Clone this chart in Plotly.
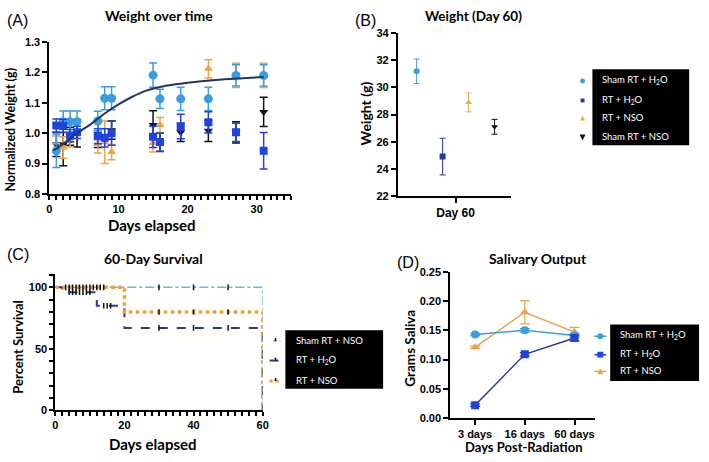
import plotly.graph_objects as go

W, H = 709, 462

# ---------------- Panel A data ----------------
a_sham_h2o_x = [1, 2, 3, 4, 7, 8, 9, 15, 16, 19, 23, 27, 31]
a_sham_h2o_y = [0.942, 1.038, 1.038, 1.038, 1.04, 1.115, 1.115, 1.191, 1.113, 1.113, 1.113, 1.19, 1.19]
a_sham_h2o_e = [0.055, 0.035, 0.035, 0.035, 0.032, 0.038, 0.038, 0.04, 0.032, 0.038, 0.038, 0.035, 0.035]

a_rt_h2o_x = [1, 2, 3, 4, 7, 8, 9, 15, 16, 19, 23, 27, 31]
a_rt_h2o_y = [1.025, 1.024, 0.992, 1.003, 0.99, 0.985, 1.0, 0.988, 0.971, 1.022, 1.036, 1.003, 0.942]
a_rt_h2o_e = [0.022, 0.022, 0.02, 0.02, 0.025, 0.03, 0.04, 0.035, 0.03, 0.04, 0.035, 0.03, 0.06]

a_rt_nso_x = [1, 2, 3, 7, 8, 9, 15, 16, 23, 27, 31]
a_rt_nso_y = [0.995, 0.953, 0.975, 0.965, 0.97, 0.938, 0.968, 1.027, 1.212, 1.19, 1.19]
a_rt_nso_e = [0.03, 0.035, 0.02, 0.03, 0.07, 0.025, 0.03, 0.025, 0.03, 0.04, 0.04]

a_sham_nso_x = [1, 2, 3, 4, 7, 9, 15, 16, 19, 23, 27, 31]
a_sham_nso_y = [0.963, 0.963, 0.99, 1.0, 0.998, 1.01, 1.027, 0.97, 1.003, 1.008, 1.003, 1.07]
a_sham_nso_e = [0.04, 0.07, 0.03, 0.045, 0.045, 0.03, 0.047, 0.03, 0.03, 0.035, 0.035, 0.048]

a_fit_x = [0.6, 2, 4, 6, 8, 10, 12, 14, 16, 18, 20, 24, 28, 31]
a_fit_y = [0.943, 0.965, 1.0, 1.03, 1.065, 1.095, 1.12, 1.14, 1.152, 1.16, 1.166, 1.175, 1.181, 1.185]

# ---------------- Panel B data ----------------
b_groups = ["Sham RT + H<sub>2</sub>O", "RT + H<sub>2</sub>O", "RT + NSO", "Sham RT + NSO"]
b_pos = [1, 2, 3, 4]
b_mean = [31.2, 24.9, 28.9, 27.1]
b_err = [0.9, 1.35, 0.7, 0.55]

# ---------------- Panel C data ----------------
c_sham_nso_x = [0, 60, 60]
c_sham_nso_y = [100, 100, 0]
c_rt_h2o_x = [0, 2, 12, 20, 60, 60]
c_rt_h2o_y = [100, 96, 85, 67, 67, 0]
c_rt_nso_x = [0, 20, 60, 60]
c_rt_nso_y = [100, 80, 80, 0]
c_cens_x = [3, 4, 5, 6, 7, 8, 9, 10, 11, 12, 13, 14, 30, 40, 50,
            4, 5, 6, 7, 8, 9, 10, 14, 15, 16, 30, 40, 50, 30, 40, 50]
c_cens_y = [100] * 12 + [100, 100, 100] + [96] * 7 + [85] * 3 + [67] * 3 + [80] * 3

# ---------------- Panel D data ----------------
d_days = ["3 days", "16 days", "60 days"]
d_sham_h2o = [0.143, 0.150, 0.141]
d_sham_h2o_e = [0.002, 0.003, 0.004]
d_rt_h2o = [0.022, 0.109, 0.137]
d_rt_h2o_e = [0.002, 0.003, 0.005]
d_rt_nso = [0.121, 0.181, 0.147]
d_rt_nso_e = [0.002, 0.02, 0.008]

# tick positions and labels (minor ticks get empty labels)
a_xticks = list(range(0, 36))
a_xlabels = [str(v) if v % 10 == 0 else "" for v in a_xticks]
c_xticks = list(range(0, 61, 2))
c_xlabels = [str(v) if v % 20 == 0 else "" for v in c_xticks]
c_yticks = list(range(0, 111, 10))
c_ylabels = [str(v) if v % 50 == 0 else "" for v in c_yticks]

LBLUE = "#3a9de0"
BLUE = "#1f43dc"
NAVY = "#2a3a9a"
ORANGE = "#eba445"
BLACK = "#111111"

fig = go.Figure()

def eb(arr, color, w=4, t=1.5):
    return dict(type="data", array=arr, color=color, thickness=t, width=w, visible=True)

# Panel A traces
fig.add_trace(go.Scatter(x=a_sham_nso_x, y=a_sham_nso_y, mode="markers", xaxis="x", yaxis="y",
                         marker=dict(symbol="triangle-down", size=8, color=BLACK),
                         error_y=eb(a_sham_nso_e, BLACK), showlegend=False))
fig.add_trace(go.Scatter(x=a_rt_nso_x, y=a_rt_nso_y, mode="markers", xaxis="x", yaxis="y",
                         marker=dict(symbol="triangle-up", size=8, color=ORANGE),
                         error_y=eb(a_rt_nso_e, ORANGE), showlegend=False))
fig.add_trace(go.Scatter(x=a_sham_h2o_x, y=a_sham_h2o_y, mode="markers", xaxis="x", yaxis="y",
                         marker=dict(symbol="circle", size=9, color=LBLUE),
                         error_y=eb(a_sham_h2o_e, LBLUE), showlegend=False))
fig.add_trace(go.Scatter(x=a_rt_h2o_x, y=a_rt_h2o_y, mode="markers", xaxis="x", yaxis="y",
                         marker=dict(symbol="square", size=8, color=BLUE),
                         error_y=eb(a_rt_h2o_e, BLUE), showlegend=False))
fig.add_trace(go.Scatter(x=a_fit_x, y=a_fit_y, mode="lines", xaxis="x", yaxis="y",
                         line=dict(color="#1f3566", width=2, shape="spline"), showlegend=False))

# Panel B traces
b_colors = [LBLUE, NAVY, "#e0b050", BLACK]
b_symbols = ["circle", "square", "triangle-up", "triangle-down"]
for i in range(4):
    fig.add_trace(go.Scatter(x=[b_pos[i]], y=[b_mean[i]], mode="markers", xaxis="x2", yaxis="y2",
                             marker=dict(symbol=b_symbols[i], size=6, color=b_colors[i]),
                             error_y=eb([b_err[i]], b_colors[i], w=3, t=1), showlegend=False))

# Panel C traces
fig.add_trace(go.Scatter(x=c_sham_nso_x, y=c_sham_nso_y, mode="lines", xaxis="x3", yaxis="y3",
                         line=dict(color="#6ab4e8", width=1.5, dash="dashdot", shape="hv"), showlegend=False))
fig.add_trace(go.Scatter(x=c_rt_h2o_x, y=c_rt_h2o_y, mode="lines", xaxis="x3", yaxis="y3",
                         line=dict(color="#26389e", width=2, dash="dash", shape="hv"), showlegend=False))
fig.add_trace(go.Scatter(x=c_rt_nso_x, y=c_rt_nso_y, mode="lines", xaxis="x3", yaxis="y3",
                         line=dict(color="#f0a030", width=3.5, dash="dot", shape="hv"), showlegend=False))
fig.add_trace(go.Scatter(x=c_cens_x, y=c_cens_y, mode="markers", xaxis="x3", yaxis="y3",
                         marker=dict(symbol="line-ns", size=4, line=dict(color=BLACK, width=1.5)),
                         showlegend=False))

# Panel D traces
fig.add_trace(go.Scatter(x=d_days, y=d_rt_nso, mode="lines+markers", xaxis="x4", yaxis="y4",
                         line=dict(color="#eaa24a", width=1.5),
                         marker=dict(symbol="triangle-up", size=8, color="#eaa24a"),
                         error_y=eb(d_rt_nso_e, "#eaa24a", w=5, t=1.2), showlegend=False))
fig.add_trace(go.Scatter(x=d_days, y=d_sham_h2o, mode="lines+markers", xaxis="x4", yaxis="y4",
                         line=dict(color=LBLUE, width=1.5),
                         marker=dict(symbol="circle", size=8, color=LBLUE),
                         error_y=eb(d_sham_h2o_e, LBLUE, w=5, t=1.2), showlegend=False))
fig.add_trace(go.Scatter(x=d_days, y=d_rt_h2o, mode="lines+markers", xaxis="x4", yaxis="y4",
                         line=dict(color=NAVY, width=1.5),
                         marker=dict(symbol="square", size=8, color=BLUE),
                         error_y=eb(d_rt_h2o_e, NAVY, w=5, t=1.2), showlegend=False))

def px(x):
    return x / W

def py(y):
    return 1 - y / H

TICKFONT = dict(family="Liberation Sans", size=11, color="black", weight="bold")

def ax(**kw):
    base = dict(showline=True, linecolor="black", linewidth=2, ticks="outside", ticklen=5,
                tickwidth=2, tickcolor="black", showgrid=False, zeroline=False,
                tickfont=TICKFONT, fixedrange=True)
    base.update(kw)
    return base

layout = dict(
    width=W, height=H, margin=dict(l=0, r=0, t=0, b=0),
    paper_bgcolor="white", plot_bgcolor="white", showlegend=False,
    xaxis=ax(domain=[px(47), px(292)], range=[0, 35], anchor="y", tickmode="array",
             tickvals=a_xticks, ticktext=a_xlabels, ticklen=4, tickwidth=1.5),
    yaxis=ax(domain=[py(193), py(37)], range=[0.8, 1.3], anchor="x", dtick=0.1, tickformat=".1f"),
    xaxis2=ax(domain=[px(400), px(515)], range=[0.28, 4.65], anchor="y2", tickvals=[2.5],
              ticktext=["Day 60"], tickfont=dict(family="Liberation Sans", size=12, color="black", weight="bold")),
    yaxis2=ax(domain=[py(195), py(28)], range=[22, 34], anchor="x2", dtick=2),
    xaxis3=ax(domain=[px(53), px(263)], range=[0, 60], anchor="y3", tickmode="array",
              tickvals=c_xticks, ticktext=c_xlabels, ticklen=4, tickwidth=1.5),
    yaxis3=ax(domain=[py(415), py(275)], range=[0, 111], anchor="x3", tickmode="array",
              tickvals=c_yticks, ticktext=c_ylabels, ticklen=4, tickwidth=1.5),
    xaxis4=ax(domain=[px(453), px(600)], range=[-0.5, 2.42], anchor="y4", type="category"),
    yaxis4=ax(domain=[py(423), py(273)], range=[0, 0.25], anchor="x4", dtick=0.05, tickformat=".2f"),
)

TITLE_FONT = dict(family="Lato", size=14, color="black", weight="bold")
LAB_FONT = dict(family="Liberation Sans", size=16, color="black")
LEG_FONT = dict(family="Lato", size=9.5, color="white")

def bold(size):
    return dict(family="Lato", size=size, color="black", weight="bold")

annotations = []

def note(text, x, y, font, xanchor="center", yanchor="middle", angle=0):
    annotations.append(dict(text=text, x=px(x), y=py(y), xref="paper", yref="paper",
                            showarrow=False, font=font, xanchor=xanchor, yanchor=yanchor,
                            textangle=angle))

# titles and panel letters
note("Weight over time", 158, 10, TITLE_FONT)
note("Weight (Day 60)", 477, 10, bold(13.5))
note("60-Day Survival", 152, 259, TITLE_FONT)
note("Salivary Output", 542, 259, TITLE_FONT)
note("(A)", 2, 15, LAB_FONT, xanchor="left")
note("(B)", 354, 15, LAB_FONT, xanchor="left")
note("(C)", 2, 255, LAB_FONT, xanchor="left")
note("(D)", 397, 263, LAB_FONT, xanchor="left")

# axis titles
note("Days elapsed", 151, 225, bold(15))
note("Normalized Weight (g)", 8, 127, bold(12.5), angle=-90)
note("Weight (g)", 367, 110, bold(14), angle=-90)
note("Days elapsed", 152, 450, bold(15))
note("Percent Survival", 15, 350, bold(13), angle=-90)
note("Days Post-Radiation", 528, 453, bold(13))
note("Grams Saliva", 412, 351, bold(13.5), angle=-90)

shapes = []

def box(x0, y0, x1, y1):
    shapes.append(dict(type="rect", xref="paper", yref="paper", x0=px(x0), x1=px(x1),
                       y0=py(y1), y1=py(y0), fillcolor="black", line=dict(width=0), layer="above"))

def seg(x0, x1, y, color, dash="solid", width=1.5):
    shapes.append(dict(type="line", xref="paper", yref="paper", x0=px(x0), x1=px(x1),
                       y0=py(y), y1=py(y), line=dict(color=color, width=width, dash=dash)))

def icon(kind, cx, cy, r, color):
    if kind == "circle":
        shapes.append(dict(type="circle", xref="paper", yref="paper", x0=px(cx - r), x1=px(cx + r),
                           y0=py(cy + r), y1=py(cy - r), fillcolor=color, line=dict(width=0)))
    elif kind == "square":
        shapes.append(dict(type="rect", xref="paper", yref="paper", x0=px(cx - r), x1=px(cx + r),
                           y0=py(cy + r), y1=py(cy - r), fillcolor=color, line=dict(width=0)))
    else:
        s = -1 if kind == "up" else 1
        path = "M {:.5f} {:.5f} L {:.5f} {:.5f} L {:.5f} {:.5f} Z".format(
            px(cx - r), py(cy - s * r), px(cx + r), py(cy - s * r), px(cx), py(cy + s * r))
        shapes.append(dict(type="path", xref="paper", yref="paper", path=path,
                           fillcolor=color, line=dict(width=0)))

# Legend B
box(597, 65, 695, 143)
b_rows = [76, 96, 114, 134]
b_kind = ["circle", "square", "up", "down"]
b_r = [2.5, 2, 2.5, 3]
for i in range(4):
    note(b_groups[i], 605, b_rows[i], LEG_FONT, xanchor="left")
    icon(b_kind[i], 587, b_rows[i] + 1, b_r[i], b_colors[i])

# Legend C
box(286, 333, 385, 393)
c_names = ["Sham RT + NSO", "RT + H<sub>2</sub>O", "RT + NSO"]
c_rows = [343, 363, 384]
seg(274, 281, c_rows[0] + 1, "#6ab4e8", "dot", 1.5)
seg(270, 281, c_rows[1] + 1, "#26389e", "dash", 2)
seg(270, 281, c_rows[2] + 1, "#f0a030", "dot", 3)
for i in range(3):
    note(c_names[i], 295, c_rows[i], LEG_FONT, xanchor="left")
    shapes.append(dict(type="line", xref="paper", yref="paper", x0=px(276), x1=px(276),
                       y0=py(c_rows[i] - 2), y1=py(c_rows[i] + 1),
                       line=dict(color="black", width=1.5)))

# Legend D
box(615, 327, 705, 385)
d_names = ["Sham RT + H<sub>2</sub>O", "RT + H<sub>2</sub>O", "RT + NSO"]
d_rows = [338, 357, 374]
d_cols = [LBLUE, BLUE, "#eaa24a"]
d_kind = ["circle", "square", "up"]
for i in range(3):
    seg(599, 611, d_rows[i] + 1, d_cols[i], "solid", 1.5)
    icon(d_kind[i], 605, d_rows[i] + 1, 3, d_cols[i])
    note(d_names[i], 623, d_rows[i], LEG_FONT, xanchor="left")

layout["annotations"] = annotations
layout["shapes"] = shapes
fig.update_layout(**layout)
fig.write_html("out.html", config={"displayModeBar": False},
               post_script="document.body.style.margin='0px';")
